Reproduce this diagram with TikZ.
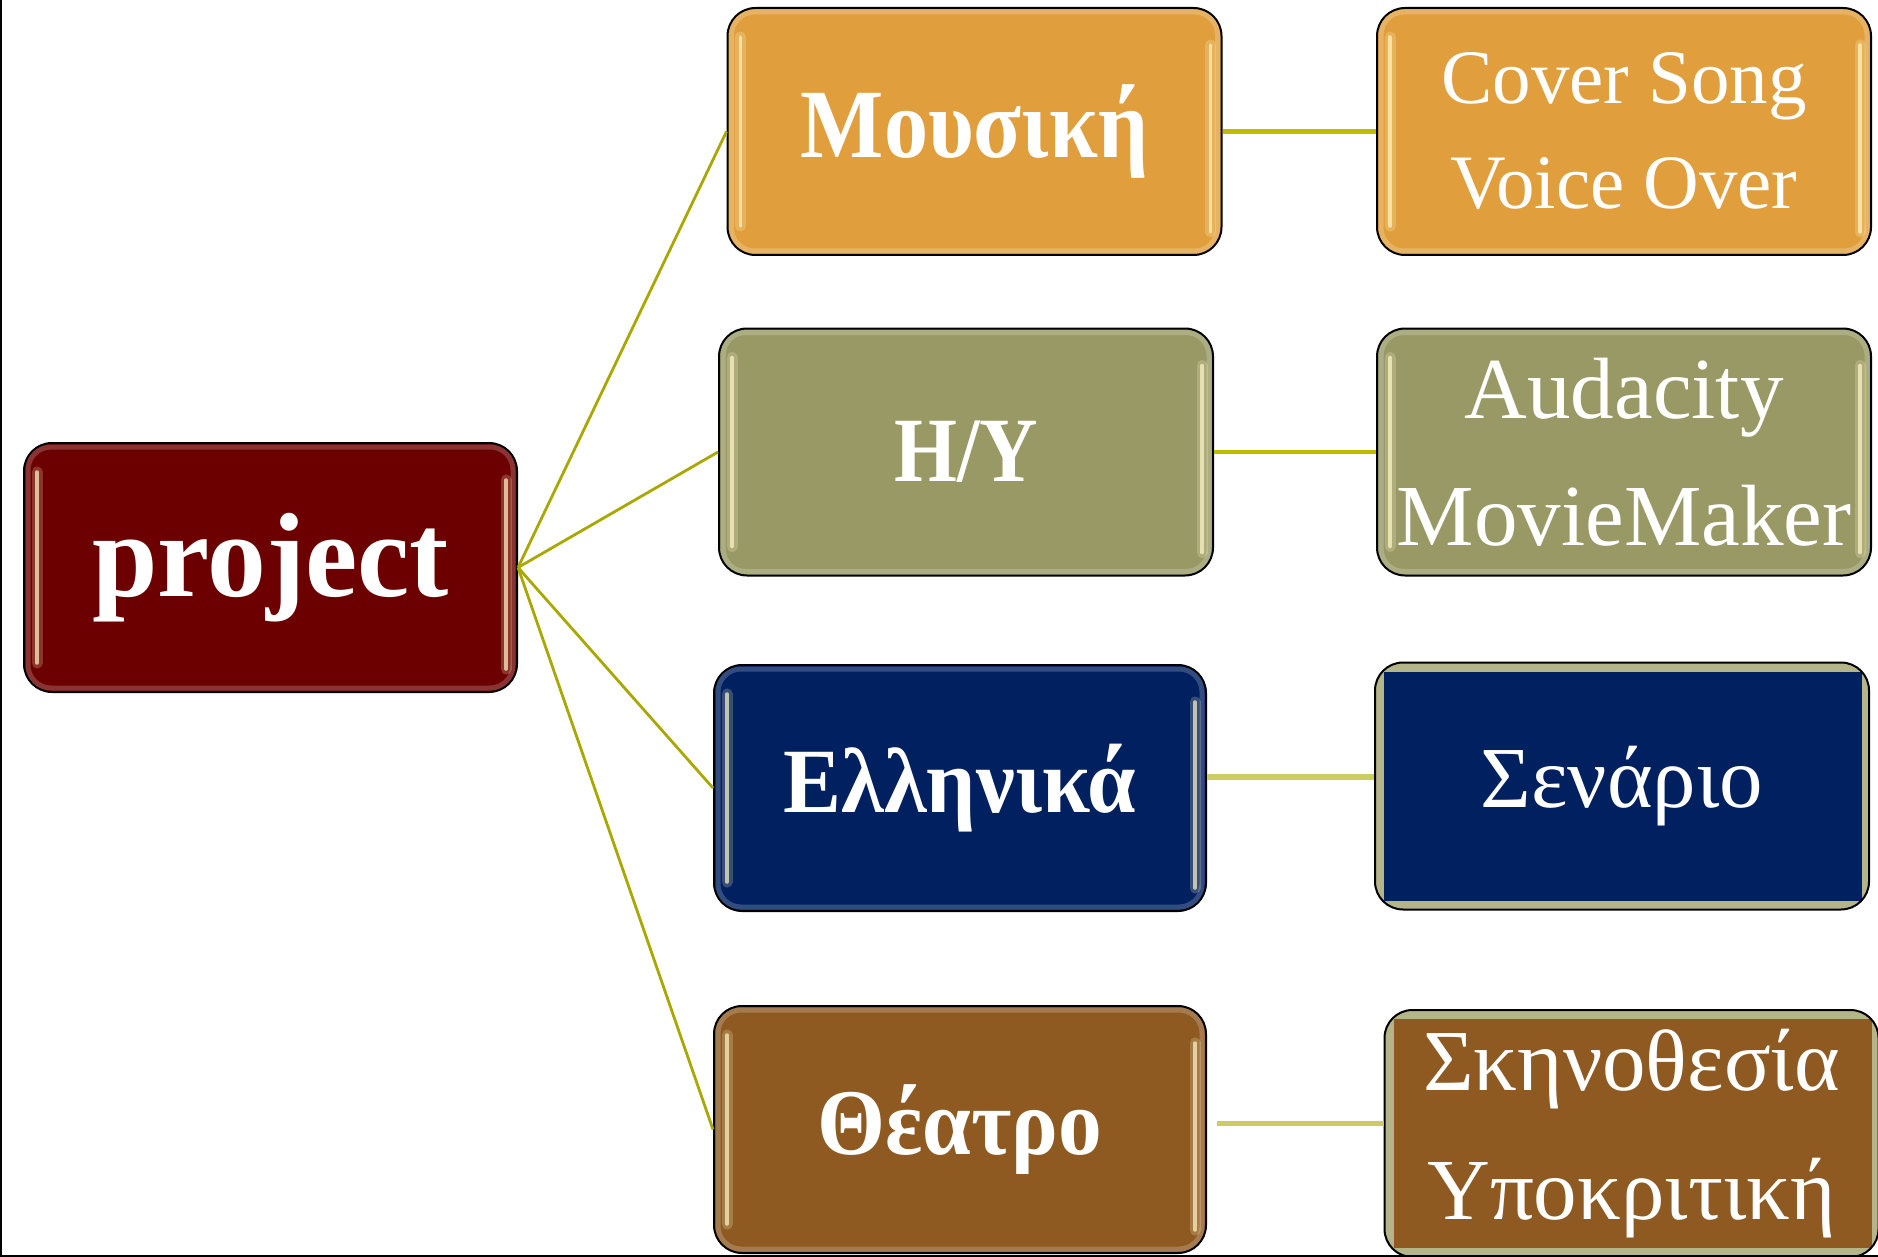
\documentclass[tikz,border=0pt]{standalone}
\usepackage{fontspec}
\usepackage{graphicx}
\setmainfont{Liberation Serif}
\definecolor{cOrange}{HTML}{E09F3C}
\definecolor{cOlive}{HTML}{999966}
\definecolor{cNavy}{HTML}{002060}
\definecolor{cBrown}{HTML}{8E5A22}
\definecolor{cRed}{HTML}{6C0000}
\definecolor{cKhaki}{HTML}{B5B58A}
\definecolor{cLineA}{HTML}{A8A800}
\definecolor{cLineB}{HTML}{BDBD00}
\definecolor{cLineC}{HTML}{CCCC60}
\definecolor{cCream}{HTML}{FFF6C8}
\tikzset{
  boxnode/.style={draw=black, line width=2pt, rounded corners=28pt,
    minimum width=494pt, minimum height=247pt, inner sep=0pt,
    text=white, align=center},
  flatbox/.style={boxnode, fill=cKhaki,
    path picture={\fill[#1, sharp corners] ([shift={(9pt,-9pt)}]path picture bounding box.north west)
      rectangle ([shift={(-7pt,9pt)}]path picture bounding box.south east);}},
  hlline/.style={cCream, opacity=0.7, line width=3.5pt, line cap=round},
  hlglow/.style={cCream, opacity=0.22, line width=11pt, line cap=round},
  rim/.style={white, opacity=0.2, line width=5pt, rounded corners=23pt},
  leftconn/.style={cLineA, line width=2.8pt},
  rightconn/.style={cLineB, line width=4.5pt},
  paleconn/.style={cLineC, line width=5.5pt},
}
\newcommand{\glossbox}[1]{%
  \draw[rim] ([shift={(5pt,-5pt)}]#1.north west) rectangle ([shift={(-5pt,5pt)}]#1.south east);
  \draw[hlglow] ([shift={(14pt,-30pt)}]#1.north west) -- ([shift={(14pt,30pt)}]#1.south west);
  \draw[hlglow] ([shift={(-12pt,-38pt)}]#1.north east) -- ([shift={(-12pt,24pt)}]#1.south east);
  \draw[hlline] ([shift={(14pt,-30pt)}]#1.north west) -- ([shift={(14pt,30pt)}]#1.south west);
  \draw[hlline] ([shift={(-12pt,-38pt)}]#1.north east) -- ([shift={(-12pt,24pt)}]#1.south east);
}
\begin{document}
\begin{tikzpicture}[x=1pt,y=-1pt]
\useasboundingbox (0,0) rectangle (1878,1257);
\fill[white] (0,0) rectangle (1878,1257);

% level 0
\node[boxnode, fill=cRed, minimum width=493pt, minimum height=249pt,
      font=\fontsize{120}{140}\selectfont\bfseries] (proj) at (270.5,567.5) {\scalebox{0.98}[1]{project}};
% level 1
\node[boxnode, fill=cOrange, font=\fontsize{98}{118}\selectfont\bfseries] (mus) at (974.5,131.5) {\scalebox{0.9}[1]{Μουσική}};
\node[boxnode, fill=cOlive, font=\fontsize{92}{110}\selectfont\bfseries] (hy) at (966,452) {\scalebox{0.88}[1]{Η/Υ}};
\node[boxnode, fill=cNavy, minimum width=492pt, minimum height=246pt,
      font=\fontsize{92}{110}\selectfont\bfseries] (ell) at (960,788) {\scalebox{0.945}[1]{Ελληνικά}};
\node[boxnode, fill=cBrown, minimum width=492pt,
      font=\fontsize{94}{110}\selectfont\bfseries] (the) at (960,1129.5) {\scalebox{0.93}[1]{Θέατρο}};
% level 2
\node[boxnode, fill=cOrange, font=\fontsize{77}{105}\selectfont] (cov) at (1624,131.5) {Cover Song\\Voice Over};
\node[boxnode, fill=cOlive, font=\fontsize{87}{127}\selectfont] (aud) at (1624,452) {Audacity\\MovieMaker};
\node[flatbox=cNavy, font=\fontsize{87}{110}\selectfont] (sen) at (1622,786) {Σενάριο};
\node[flatbox=cBrown, font=\fontsize{87}{129}\selectfont] (skn) at (1631.5,1133.5) {Σκηνοθεσία\\Υποκριτική};

\foreach \n in {proj,mus,hy,ell,the,cov,aud}{\glossbox{\n}}

% connectors
\draw[leftconn] (proj.east) -- (mus.west);
\draw[leftconn] (proj.east) -- (hy.west);
\draw[leftconn] (proj.east) -- (ell.west);
\draw[leftconn] (proj.east) -- (the.west);

\draw[rightconn] (mus.east) -- (cov.west);
\draw[rightconn] (hy.east) -- (aud.west);
\coordinate (es) at ([yshift=11pt]ell.east);
\draw[paleconn] (es) -- (es -| sen.west);
\coordinate (ts) at ([shift={(10pt,6pt)}]the.east);
\draw[paleconn] (ts) -- (ts -| skn.west);

% page frame (left and bottom)
\draw[black, line width=2.5pt] (1.2,0) -- (1.2,1255.8) -- (1878,1255.8);
\end{tikzpicture}
\end{document}
